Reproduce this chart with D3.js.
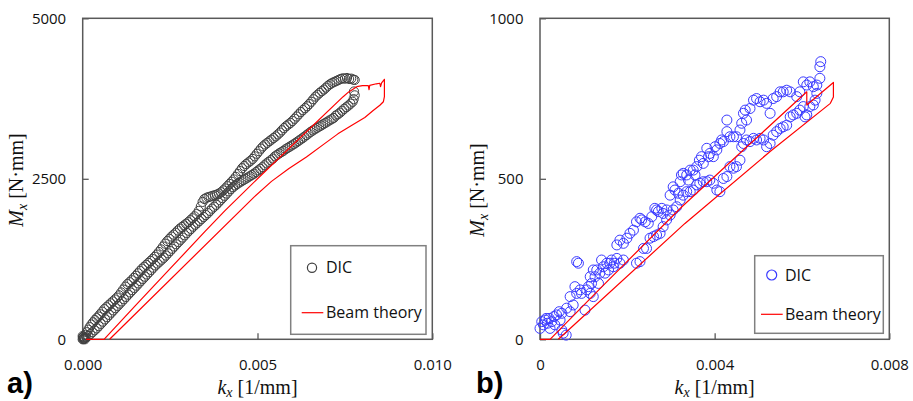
<!DOCTYPE html>
<html><head><meta charset="utf-8">
<script src="https://cdn.jsdelivr.net/npm/d3@7"></script>
<style>body{margin:0;background:#fff}svg{display:block}</style>
</head><body>
<svg id="c" width="913" height="401"></svg>
<script>
// ---- DATA (kx in 10^-3 1/mm, Mx in N·mm) ----
const xTicksA = [0, 5, 10];
const xTickLabelsA = ["0.000", "0.005", "0.010"];
const yTicksA = [0, 2500, 5000];
const yTickLabelsA = ["0", "2500", "5000"];
const xTicksB = [0, 4, 8];
const xTickLabelsB = ["0", "0.004", "0.008"];
const yTicksB = [0, 500, 1000];
const yTickLabelsB = ["0", "500", "1000"];
const legendLabels = ["DIC", "Beam theory"];

// panel a) DIC, loading branch
const dicA_load = [
[0.00,0],[0.01,30],[0.03,10],[0.06,0],[0.00,50],[0.02,40],[0.05,25],[0.08,70],[0.12,110],[0.16,150],[0.20,190],[0.25,230],[0.30,265],[0.35,300],[0.40,330],[0.45,355],[0.50,390],[0.56,430],[0.62,470],[0.68,500],[0.74,530],[0.80,560],[0.86,590],[0.92,620],[0.98,650],[1.04,685],[1.10,730],[1.16,775],[1.22,820],[1.28,860],[1.34,890],[1.40,920],[1.46,955],[1.52,990],[1.58,1028],[1.64,1065],[1.70,1100],[1.76,1130],[1.82,1160],[1.88,1190],[1.94,1220],[2.00,1250],[2.06,1285],[2.12,1320],[2.18,1360],[2.24,1400],[2.30,1445],[2.36,1490],[2.42,1530],[2.48,1565],[2.54,1600],[2.60,1630],[2.66,1660],[2.72,1695],[2.78,1725],[2.84,1750],[2.90,1775],[2.96,1800],[3.02,1825],[3.08,1855],[3.14,1885],[3.20,1915],[3.26,1950],[3.32,2000],[3.38,2070],[3.43,2140],[3.48,2185],[3.54,2205],[3.60,2215],[3.66,2225],[3.72,2235],[3.78,2245],[3.84,2255],[3.90,2270],[3.96,2290],[4.02,2320],[4.08,2350],[4.14,2385],[4.20,2420],[4.26,2455],[4.32,2490],[4.38,2530],[4.44,2575],[4.50,2620],[4.56,2665],[4.62,2700],[4.68,2730],[4.74,2755],[4.80,2780],[4.86,2810],[4.92,2850],[4.98,2890],[5.04,2930],[5.10,2970],[5.16,3005],[5.22,3035],[5.28,3060],[5.34,3085],[5.40,3110],[5.46,3135],[5.52,3160],[5.58,3190],[5.64,3220],[5.70,3255],[5.76,3290],[5.82,3320],[5.88,3345],[5.94,3370],[6.00,3400],[6.06,3435],[6.12,3470],[6.18,3505],[6.24,3540],[6.30,3570],[6.36,3600],[6.42,3630],[6.48,3665],[6.54,3700],[6.60,3740],[6.66,3780],[6.72,3810],[6.78,3840],[6.84,3865],[6.90,3890],[6.96,3920],[7.02,3950],[7.08,3975],[7.14,3995],[7.20,4010],[7.26,4025],[7.32,4040],[7.38,4055],[7.44,4065],[7.50,4060],[7.56,4070],[7.62,4055],[7.68,4060],[7.74,4045],[7.78,4040]
];
// panel a) DIC, unloading branch
const dicA_unload = [
[7.76,3860],[7.78,3800],[7.75,3740],[7.72,3700],[7.66,3670],[7.60,3640],[7.54,3615],[7.48,3590],[7.42,3560],[7.36,3530],[7.30,3505],[7.24,3485],[7.18,3448],[7.12,3428],[7.06,3410],[7.00,3390],[6.94,3370],[6.88,3350],[6.82,3330],[6.76,3312],[6.70,3292],[6.64,3272],[6.58,3252],[6.52,3230],[6.46,3205],[6.40,3180],[6.34,3155],[6.28,3130],[6.22,3108],[6.16,3085],[6.10,3062],[6.04,3040],[5.98,3020],[5.92,3000],[5.86,2980],[5.80,2960],[5.74,2935],[5.68,2915],[5.62,2895],[5.56,2872],[5.50,2850],[5.44,2815],[5.38,2790],[5.32,2765],[5.26,2740],[5.20,2710],[5.14,2680],[5.08,2655],[5.02,2630],[4.96,2605],[4.90,2580],[4.84,2560],[4.78,2540],[4.72,2520],[4.66,2500],[4.60,2480],[4.54,2460],[4.48,2440],[4.42,2420],[4.36,2395],[4.30,2370],[4.24,2340],[4.18,2305],[4.12,2270],[4.06,2235],[4.00,2200],[3.94,2165],[3.88,2130],[3.82,2095],[3.76,2065],[3.70,2035],[3.64,2000],[3.58,1965],[3.52,1935],[3.46,1905],[3.40,1875],[3.34,1845],[3.28,1815],[3.22,1785],[3.16,1755],[3.10,1720],[3.04,1690],[2.98,1655],[2.92,1620],[2.86,1585],[2.80,1550],[2.74,1515],[2.68,1480],[2.62,1445],[2.56,1410],[2.50,1375],[2.44,1340],[2.38,1305],[2.32,1270],[2.26,1240],[2.20,1210],[2.14,1180],[2.08,1150],[2.02,1115],[1.96,1080],[1.90,1045],[1.84,1010],[1.78,975],[1.72,940],[1.66,905],[1.60,870],[1.54,835],[1.48,800],[1.42,765],[1.36,730],[1.30,695],[1.24,660],[1.18,625],[1.12,590],[1.06,555],[1.00,520],[0.94,485],[0.88,450],[0.82,415],[0.76,380],[0.70,345],[0.64,310],[0.58,275],[0.52,240],[0.46,205],[0.40,170],[0.34,140],[0.28,110],[0.22,80],[0.16,55],[0.10,30],[0.05,15],[0.02,5]
];
// panel a) beam theory
const beamA = [
[0.10,0],[0.61,0],[1.5,520],[2.5,1100],[3.5,1680],[4.07,2005],[5.0,2500],[6.22,3140],[7.45,3779],[7.6,3850],[7.84,3935],[8.0,3950],[8.17,3950],[8.19,3890],[8.21,3955],[8.4,3980],[8.5,3988],[8.52,3935],[8.55,3995],[8.63,4050],[8.63,3780],[8.6,3700],[8.5,3645],[8.3,3560],[8.07,3455],[7.7,3335],[7.3,3200],[6.9,3040],[6.4,2840],[5.9,2660],[5.4,2460],[4.9,2215],[0.77,0]
];
// panel b) DIC
const dicB = [
[0,34],[0.04,55],[0.08,45],[0.12,60],[0.17,50],[0.21,65],[0.27,55],[0.32,71],[0.38,76],[0.44,86],[0.50,81],[0.46,60],[0.34,45],[0.23,34],[0.14,65],[0.53,19],[0.60,13],[0.50,29],[0.61,97],[0.69,86],[0.76,107],[0.69,133],[0.80,164],[0.84,143],[0.92,154],[0.95,143],[1.03,91],[1.07,154],[1.15,143],[1.11,164],[1.22,133],[1.18,174],[1.26,195],[1.30,216],[1.34,174],[1.37,206],[1.45,226],[1.53,237],[1.60,237],[1.68,226],[1.76,252],[1.83,237],[1.91,247],[0.84,242],[0.88,237],[1.15,195],[1.22,216],[1.41,247],[1.49,206],[1.57,216],[1.64,247],[1.70,237],
[1.76,294],[1.83,309],[1.91,299],[1.99,315],[2.06,330],[2.14,340],[2.21,366],[2.29,377],[2.33,372],[2.41,366],[2.48,361],[2.56,382],[2.63,408],[2.67,403],[2.71,398],[2.79,408],[2.82,392],[2.90,403],[2.98,449],[3.05,475],[3.09,465],[3.17,455],[3.21,491],[3.24,512],[3.28,517],[3.36,512],[3.40,496],[3.44,527],[3.51,527],[3.55,512],[3.59,538],[3.65,558],[3.70,569],[3.74,548],[3.82,595],[3.86,569],[3.89,579],[3.97,569],[4.01,600],[4.05,590],[4.12,610],[4.16,621],[4.20,616],[4.28,647],[4.35,631],[4.43,631],[4.50,631],[4.58,652],[4.62,673],[4.66,704],[4.70,714],[4.73,683],[4.81,719],[4.89,745],[4.96,750],[5.04,740],[5.12,745],[5.19,735],[5.27,704],[5.34,750],[5.42,756],[5.50,771],[5.57,771],[5.65,776],[5.73,771],[5.88,756],[5.95,771],[6.03,802],[6.11,792],[6.18,802],[6.26,787],[6.34,792],[6.41,813],[6.41,849],[6.43,865],[4.28,683],
[2.29,242],[2.21,237],[2.37,283],[2.44,283],[2.52,315],[2.60,320],[2.67,325],[2.75,330],[2.82,351],[2.90,372],[2.98,387],[3.05,403],[3.13,413],[3.21,434],[3.28,449],[3.36,460],[3.44,460],[3.51,465],[3.59,481],[3.66,486],[3.74,491],[3.82,491],[3.89,496],[3.97,486],[4.05,465],[4.12,460],[4.20,501],[4.28,507],[4.35,538],[4.43,533],[4.50,538],[4.58,558],[4.62,600],[4.66,610],[4.73,621],[4.81,616],[4.89,626],[4.96,621],[5.04,626],[5.12,621],[5.19,600],[5.27,610],[5.34,636],[5.42,647],[5.50,657],[5.57,662],[5.65,667],[5.73,693],[5.80,699],[5.88,704],[5.95,714],[6.03,725],[6.07,693],[6.11,699],[6.18,725],[6.26,730],[6.30,745],[6.34,766]
];
// panel b) beam theory
const beamB = [
[0,0],[0.23,0],[1.5,175],[3.25,413],[4.7,595],[6.11,771],[6.11,730],[6.72,800],[6.72,755],[6.65,735],[5.27,585],[3.32,361],[0.42,0]
];

// ---- DRAWING ----
const svg = d3.select("#c");
const sansFont = "'Open Sans', 'Liberation Sans', sans-serif";
const serifFont = "'Liberation Serif', 'Times New Roman', serif";

function panel(o) {
  const x = d3.scaleLinear().domain(o.xDomain).range([o.left, o.right]);
  const y = d3.scaleLinear().domain(o.yDomain).range([o.bottom, o.top]);
  const g = svg.append("g");

  const gx = g.append("g").attr("transform", `translate(0,${o.bottom})`)
    .call(d3.axisBottom(x).tickValues(o.xTicks).tickFormat((d, i) => o.xLabels[i])
      .tickSize(-6).tickSizeOuter(0).tickPadding(20));
  const gy = g.append("g").attr("transform", `translate(${o.left},0)`)
    .call(d3.axisLeft(y).tickValues(o.yTicks).tickFormat((d, i) => o.yLabels[i])
      .tickSize(-6).tickSizeOuter(0).tickPadding(16.5));
  [gx, gy].forEach(a => {
    a.select(".domain").remove();
    a.selectAll(".tick line").attr("stroke", "#595959").attr("stroke-width", 1.3);
    a.selectAll(".tick text").attr("font-family", sansFont).attr("font-size", 15).attr("fill", "#111");
  });

  g.append("rect").attr("x", o.left).attr("y", o.top)
    .attr("width", o.right - o.left).attr("height", o.bottom - o.top)
    .attr("fill", "none").attr("stroke", "#595959").attr("stroke-width", 1.5);

  o.dic.forEach(set => {
    g.append("g").selectAll("circle").data(set).join("circle")
      .attr("cx", d => x(d[0])).attr("cy", d => y(d[1])).attr("r", o.r)
      .attr("fill", "none").attr("stroke", o.dicColor).attr("stroke-width", o.dicWidth);
  });

  g.append("path").datum(o.beam)
    .attr("d", d3.line().x(d => x(d[0])).y(d => y(d[1])))
    .attr("fill", "none").attr("stroke", "#ff0000").attr("stroke-width", 1.2)
    .attr("stroke-linejoin", "round");

  const L = o.legend;
  g.append("rect").attr("x", L.x0).attr("y", L.y0).attr("width", L.x1 - L.x0).attr("height", L.y1 - L.y0)
    .attr("fill", "#fff").attr("stroke", "#808080").attr("stroke-width", 1.5);
  g.append("circle").attr("cx", L.cx).attr("cy", L.cy).attr("r", o.r)
    .attr("fill", "none").attr("stroke", o.dicColor).attr("stroke-width", 1.2);
  g.append("text").attr("x", L.tx).attr("y", L.cy + 5.5).text(legendLabels[0])
    .attr("font-family", sansFont).attr("font-size", 16).attr("fill", "#111");
  g.append("line").attr("x1", L.lx0).attr("x2", L.lx1).attr("y1", L.ly).attr("y2", L.ly)
    .attr("stroke", "#ff0000").attr("stroke-width", 1.2);
  g.append("text").attr("x", L.tx).attr("y", L.ly + 5.5).text(legendLabels[1])
    .attr("font-family", sansFont).attr("font-size", 16).attr("fill", "#111");

  const yt = g.append("text").attr("transform", `translate(${o.yTitleX},${o.yTitleY}) rotate(-90)`)
    .attr("text-anchor", "middle").attr("font-family", serifFont).attr("font-size", 20).attr("fill", "#111");
  yt.append("tspan").attr("font-style", "italic").text("M");
  yt.append("tspan").attr("font-style", "italic").attr("font-size", 14).attr("dy", 4).text("x");
  yt.append("tspan").attr("dy", -4).text("\u00a0[N·mm]");

  const xt = g.append("text").attr("x", (o.left + o.right) / 2).attr("y", 394)
    .attr("text-anchor", "middle").attr("font-family", serifFont).attr("font-size", 20).attr("fill", "#111");
  xt.append("tspan").attr("font-style", "italic").text("k");
  xt.append("tspan").attr("font-style", "italic").attr("font-size", 14).attr("dy", 3).text("x");
  xt.append("tspan").attr("dy", -3).text("\u00a0[1/mm]");

  g.append("text").attr("x", o.letterX).attr("y", 393).text(o.letter)
    .attr("font-family", "'Liberation Sans', Arial, sans-serif").attr("font-weight", "bold")
    .attr("font-size", 29).attr("fill", "#000");
}

panel({
  xDomain: [0, 10], yDomain: [0, 5000],
  left: 82.7, right: 432.3, top: 18.3, bottom: 339.3,
  xTicks: xTicksA, xLabels: xTickLabelsA, yTicks: yTicksA, yLabels: yTickLabelsA,
  dic: [dicA_load, dicA_unload], dicColor: "#404040", dicWidth: 1, r: 4.6,
  beam: beamA,
  legend: {x0: 290.7, x1: 426, y0: 245.7, y1: 334.3, cx: 312, cy: 267.7, tx: 326, lx0: 301.7, lx1: 323.3, ly: 312.7},
  yTitleX: 22.5, yTitleY: 180, letter: "a)", letterX: 7
});

panel({
  xDomain: [0, 8], yDomain: [0, 1000],
  left: 540, right: 889.3, top: 18.3, bottom: 339.3,
  xTicks: xTicksB, xLabels: xTickLabelsB, yTicks: yTicksB, yLabels: yTickLabelsB,
  dic: [dicB], dicColor: "#3a3aff", dicWidth: 1, r: 5,
  beam: beamB,
  legend: {x0: 754.7, x1: 883.3, y0: 255.7, y1: 333.3, cx: 771.7, cy: 275, tx: 785, lx0: 761, lx1: 782.7, ly: 314.3},
  yTitleX: 484, yTitleY: 190, letter: "b)", letterX: 476
});
</script>
</body></html>
